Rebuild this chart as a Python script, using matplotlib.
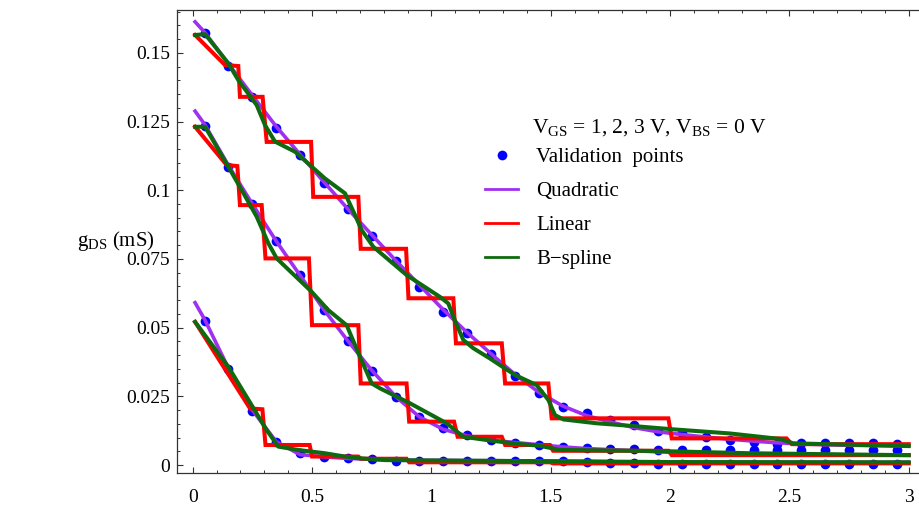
import matplotlib
matplotlib.use("Agg")
import matplotlib.pyplot as plt
from matplotlib.lines import Line2D
from matplotlib.ticker import MultipleLocator

plt.rcParams["font.family"] = ["Liberation Serif", "DejaVu Serif"]
plt.rcParams["mathtext.fontset"] = "custom"
plt.rcParams["mathtext.rm"] = "Liberation Serif"
plt.rcParams["mathtext.it"] = "Liberation Serif:italic"

# === DATA ===
# validation points, V_DS in V, g_DS in mS
val_x = [0.05, 0.15, 0.25, 0.35, 0.45, 0.55, 0.65, 0.75, 0.85, 0.95,
         1.05, 1.15, 1.25, 1.35, 1.45, 1.55, 1.65, 1.75, 1.85, 1.95,
         2.05, 2.15, 2.25, 2.35, 2.45, 2.55, 2.65, 2.75, 2.85, 2.95]
val_vgs3 = [0.1571, 0.1453, 0.1340, 0.1227, 0.1127, 0.1025, 0.0930, 0.0832, 0.0742, 0.0649,
            0.0558, 0.0479, 0.0403, 0.0324, 0.0261, 0.0212, 0.0188, 0.0164, 0.0146, 0.0124,
            0.0115, 0.0103, 0.0093, 0.0085, 0.0078, 0.0081, 0.0082, 0.0081, 0.0079, 0.0076]
val_vgs2 = [0.1234, 0.1086, 0.0950, 0.0815, 0.0691, 0.0564, 0.0451, 0.0342, 0.0248, 0.0176,
            0.0134, 0.0109, 0.0091, 0.0081, 0.0073, 0.0067, 0.0061, 0.0058, 0.0057, 0.0055,
            0.0055, 0.0055, 0.0055, 0.0055, 0.0055, 0.0055, 0.0055, 0.0055, 0.0055, 0.0055]
val_vgs1 = [0.0525, 0.0349, 0.0198, 0.0085, 0.0043, 0.0030, 0.0024, 0.0022, 0.0016, 0.0016,
            0.0015, 0.0015, 0.0015, 0.0015, 0.0015, 0.0013, 0.0010, 0.0008, 0.0006, 0.0004,
            0.0004, 0.0004, 0.0004, 0.0004, 0.0004, 0.0004, 0.0004, 0.0004, 0.0004, 0.0004]

# quadratic model
quad_x = [0.01, 0.05, 0.15, 0.25, 0.35, 0.45, 0.55, 0.65, 0.75, 0.85, 0.95,
          1.05, 1.15, 1.25, 1.35, 1.45, 1.55, 1.65, 1.75, 1.85, 1.95,
          2.05, 2.15, 2.25, 2.35, 2.45, 2.55, 2.65, 2.75, 2.85, 2.95, 3.0]
quad_vgs3 = [0.1613, 0.1575, 0.1460, 0.1345, 0.1232, 0.1130, 0.1030, 0.0932, 0.0838, 0.0745, 0.0655,
             0.0565, 0.0482, 0.0405, 0.0330, 0.0265, 0.0215, 0.0180, 0.0157, 0.0136, 0.0121,
             0.0111, 0.0102, 0.0094, 0.0087, 0.0081, 0.0077, 0.0074, 0.0072, 0.0071, 0.0070, 0.0070]
quad_vgs2 = [0.1288, 0.1240, 0.1090, 0.0950, 0.0815, 0.0690, 0.0565, 0.0452, 0.0345, 0.0250, 0.0175,
             0.0130, 0.0106, 0.0091, 0.0082, 0.0074, 0.0066, 0.0060, 0.0056, 0.0052, 0.0048,
             0.0045, 0.0043, 0.0041, 0.0040, 0.0039, 0.0038, 0.0038, 0.0037, 0.0037, 0.0037, 0.0037]
quad_vgs1 = [0.0591, 0.0530, 0.0352, 0.0200, 0.0085, 0.0038, 0.0030, 0.0024, 0.0021, 0.0018, 0.0017,
             0.0017, 0.0016, 0.0016, 0.0015, 0.0015, 0.0014, 0.0013, 0.0012, 0.0011, 0.0011,
             0.0010, 0.0010, 0.0010, 0.0010, 0.0010, 0.0010, 0.0010, 0.0010, 0.0010, 0.0010, 0.0010]

# linear model (stepped)
lin_x_vgs3 = [0.01, 0.135, 0.191, 0.198, 0.293, 0.310, 0.496, 0.505, 0.694, 0.704, 0.894, 0.904,
              1.092, 1.103, 1.295, 1.309, 1.490, 1.504, 1.993, 2.007, 2.488, 2.510, 3.0]
lin_y_vgs3 = [0.1565, 0.1456, 0.1452, 0.1340, 0.1340, 0.1176, 0.1176, 0.0976, 0.0976, 0.0787, 0.0787, 0.0607,
              0.0607, 0.0443, 0.0443, 0.0297, 0.0297, 0.0170, 0.0170, 0.0097, 0.0097, 0.0076, 0.0076]
lin_x_vgs2 = [0.01, 0.142, 0.187, 0.198, 0.289, 0.305, 0.487, 0.500, 0.694, 0.704, 0.896, 0.907,
              1.095, 1.110, 1.295, 1.309, 1.497, 1.510, 1.993, 2.007, 3.0]
lin_y_vgs2 = [0.1231, 0.1092, 0.1088, 0.0946, 0.0946, 0.0752, 0.0752, 0.0509, 0.0509, 0.0297, 0.0297, 0.0158,
              0.0158, 0.0103, 0.0103, 0.0073, 0.0073, 0.0052, 0.0052, 0.0036, 0.0036]
lin_x_vgs1 = [0.01, 0.240, 0.292, 0.305, 0.490, 0.500, 0.694, 0.704, 0.896, 0.907, 1.497, 1.510, 3.0]
lin_y_vgs1 = [0.0521, 0.0206, 0.0203, 0.0073, 0.0073, 0.0031, 0.0031, 0.0023, 0.0023, 0.0010, 0.0010, 0.0006, 0.0006]

# B-spline model
bsp_x_vgs3 = [0.01, 0.052, 0.149, 0.191, 0.268, 0.303, 0.345, 0.429, 0.554, 0.638, 0.680, 0.708, 0.757,
              0.897, 1.036, 1.071, 1.099, 1.134, 1.176, 1.245, 1.350, 1.441, 1.490, 1.518, 1.553,
              1.692, 1.846, 2.013, 2.251, 2.460, 2.516, 3.0]
bsp_y_vgs3 = [0.1565, 0.1568, 0.1462, 0.1401, 0.1310, 0.1237, 0.1177, 0.1140, 0.1043, 0.0989, 0.0910, 0.0855, 0.0794,
              0.0691, 0.0612, 0.0588, 0.0525, 0.0455, 0.0425, 0.0388, 0.0328, 0.0291, 0.0237, 0.0182, 0.0166,
              0.0152, 0.0142, 0.0130, 0.0115, 0.0095, 0.0079, 0.0069]
bsp_x_vgs2 = [0.01, 0.052, 0.149, 0.205, 0.268, 0.317, 0.352, 0.498, 0.568, 0.645, 0.701, 0.750,
              0.785, 0.910, 1.064, 1.134, 1.232, 1.343, 1.455, 1.539, 1.958, 2.335, 3.0]
bsp_y_vgs2 = [0.1231, 0.1231, 0.1086, 0.1001, 0.0904, 0.0807, 0.0752, 0.0631, 0.0564, 0.0509, 0.0394, 0.0297,
              0.0279, 0.0225, 0.0152, 0.0103, 0.0091, 0.0079, 0.0070, 0.0055, 0.0051, 0.0043, 0.0036]
bsp_x_vgs1 = [0.01, 0.149, 0.247, 0.310, 0.359, 0.442, 0.554, 0.666, 0.806, 1.5, 2.0, 3.0]
bsp_y_vgs1 = [0.0521, 0.0358, 0.0218, 0.0127, 0.0067, 0.0055, 0.0043, 0.0027, 0.0018, 0.0014, 0.0011, 0.0010]

x_ticks = [0, 0.5, 1, 1.5, 2, 2.5, 3]
x_tick_labels = ["0", "0.5", "1", "1.5", "2", "2.5", "3"]
y_ticks = [0, 0.025, 0.05, 0.075, 0.1, 0.125, 0.15]
y_tick_labels = ["0", "0.025", "0.05", "0.075", "0.1", "0.125", "0.15"]

C_DOT = "#0000ff"
C_QUAD = "#a030f0"
C_LIN = "#ff0000"
C_BSP = "#0f6a0f"

# === PLOT ===
fig = plt.figure(figsize=(9.19, 5.09), dpi=100)
ax = fig.add_axes([177.3 / 919, 1 - 473.3 / 509, (919 - 177.3) / 919, (473.3 - 10) / 509])

for vy in (val_vgs3, val_vgs2, val_vgs1):
    ax.plot(val_x, vy, "o", color=C_DOT, markersize=7, markeredgewidth=0, zorder=2)
for qy in (quad_vgs3, quad_vgs2, quad_vgs1):
    ax.plot(quad_x, qy, color=C_QUAD, lw=2.6, zorder=3, solid_joinstyle="round")
for lx, ly in ((lin_x_vgs3, lin_y_vgs3), (lin_x_vgs2, lin_y_vgs2), (lin_x_vgs1, lin_y_vgs1)):
    ax.plot(lx, ly, color=C_LIN, lw=2.9, zorder=4, solid_joinstyle="miter")
for bx, by in ((bsp_x_vgs3, bsp_y_vgs3), (bsp_x_vgs2, bsp_y_vgs2), (bsp_x_vgs1, bsp_y_vgs1)):
    ax.plot(bx, by, color=C_BSP, lw=2.9, zorder=5, solid_joinstyle="round")

ax.set_xlim(-0.0645, 3.043)
ax.set_ylim(-0.0030, 0.1656)
ax.set_xticks(x_ticks)
ax.set_xticklabels(x_tick_labels)
ax.set_yticks(y_ticks)
ax.set_yticklabels(y_tick_labels)
ax.xaxis.set_minor_locator(MultipleLocator(0.1))
ax.yaxis.set_minor_locator(MultipleLocator(0.005))
ax.tick_params(which="both", direction="in", top=True, right=False, labelsize=14, color="#333333")
ax.tick_params(which="major", length=4.3, width=0.8)
ax.tick_params(which="minor", length=2.5, width=0.7)
ax.tick_params(axis="x", pad=11)
ax.tick_params(axis="y", pad=5)
ax.spines["right"].set_visible(False)
for s in ("left", "bottom", "top"):
    ax.spines[s].set_linewidth(0.9)
    ax.spines[s].set_color("#333333")

ax.set_ylabel(r"g$_{\rm DS}$ (mS)", fontsize=15, rotation=0, ha="center", va="center")
ax.yaxis.set_label_coords(-0.0826, 0.5014)

fig.text(532 / 919, 1 - 133 / 509, r"V$_{\rm GS}$ = 1, 2, 3 V, V$_{\rm BS}$ = 0 V",
         fontsize=15.5, ha="left", va="baseline")

handles = [
    Line2D([], [], marker="o", color=C_DOT, linestyle="none", markersize=7, markeredgewidth=0),
    Line2D([], [], color=C_QUAD, lw=2),
    Line2D([], [], color=C_LIN, lw=2),
    Line2D([], [], color=C_BSP, lw=2),
]
labels = ["Validation  points", "Quadratic", "Linear", "B\u2212spline"]
ax.legend(handles, labels, loc="upper left", bbox_to_anchor=(485 / 919, 1 - 147.5 / 509),
          bbox_transform=fig.transFigure, frameon=False, fontsize=15,
          handlelength=1.59, handletextpad=0.87, labelspacing=0.69,
          borderpad=0, borderaxespad=0)

fig.savefig("out.png", dpi=100)
